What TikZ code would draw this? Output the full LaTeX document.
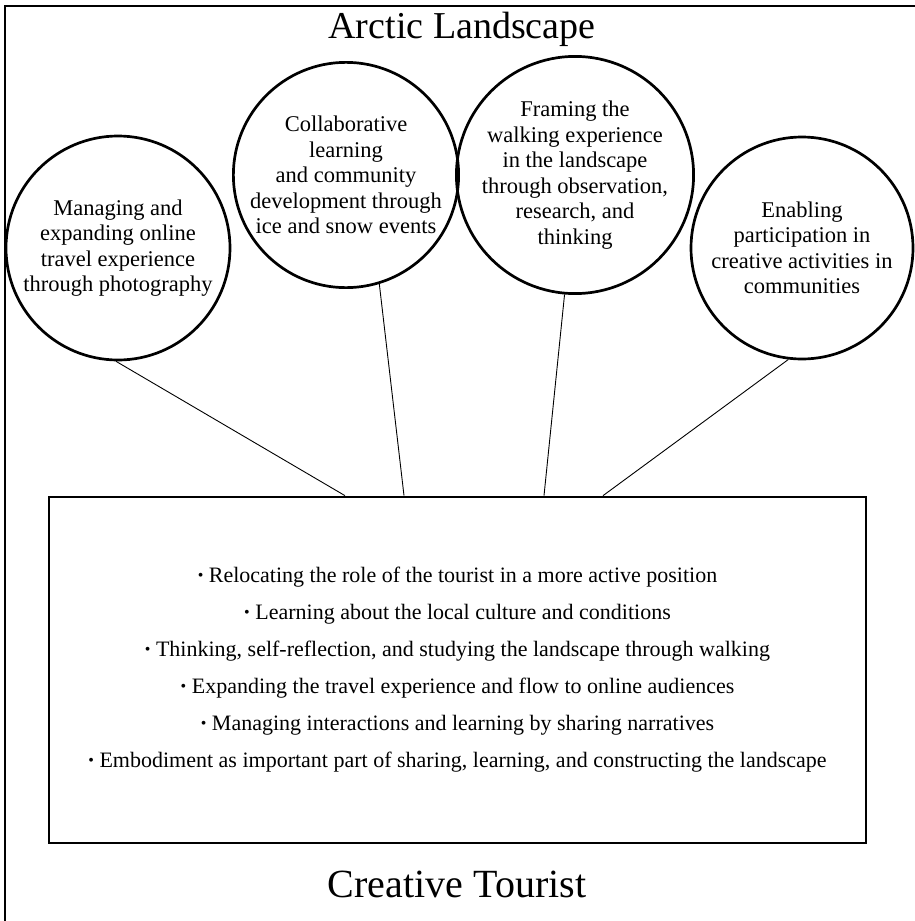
\documentclass[tikz,border=0pt]{standalone}
\usepackage{fontspec}
\setmainfont{Liberation Serif}
\usetikzlibrary{calc}
\newcommand\mybul{\raisebox{0.1em}{\fontsize{16}{16}\selectfont\textbullet}\ }
\begin{document}
\begin{tikzpicture}[x=1pt,y=-1pt,
  bubble/.style={circle,draw,line width=2.7pt,inner sep=0pt,align=center,
    font=\fontsize{22.5}{25.5}\selectfont},
  heading/.style={font=\fontsize{38}{40}\selectfont,inner sep=0pt,anchor=base},
  frame/.style={line width=2pt},
  link/.style={line width=0.9pt},
]
\useasboundingbox (0,0) rectangle (914,921);
\fill[white] (0,0) rectangle (914,921);
\draw[frame] (5,930) -- (5,6) -- (925,6);

\node[heading] (top) at (462,38) {Arctic Landscape};
\node[heading,font=\fontsize{40}{42}\selectfont] (bottom) at (457,897) {Creative Tourist};

\node[bubble,minimum size=224pt] (c1) at (118,248)
  {Managing and\\expanding online\\travel experience\\through photography};
\node[bubble,minimum size=224pt] (c2) at (346,175)
  {Collaborative\\learning\\and community\\development through\\ice and snow events};
\node[bubble,minimum size=226pt] (c3) at (575,175)
  {Framing the\\walking experience\\in the landscape\\through observation,\\research, and\\thinking};
\node[bubble,minimum size=222pt] (c4) at (802,248)
  {Enabling\\participation in\\creative activities in\\communities};

\node[draw,line width=2.2pt,minimum width=817pt,minimum height=346pt,inner sep=0pt,
  align=center,font=\fontsize{22}{37}\selectfont] (box) at (457.5,669.75)
  {\mybul Relocating the role of the tourist in a more active position\\
   \mybul Learning about the local culture and conditions\\
   \mybul Thinking, self-reflection, and studying the landscape through walking\\
   \mybul Expanding the travel experience and flow to online audiences\\
   \mybul Managing interactions and learning by sharing narratives\\
   \mybul Embodiment as important part of sharing, learning, and constructing the landscape};

\coordinate (p1) at ($(box.north)+(-112.5,0)$);
\coordinate (p2) at ($(box.north)+(-53.5,0)$);
\coordinate (p3) at ($(box.north)+(86.5,0)$);
\coordinate (p4) at ($(box.north)+(145.5,0)$);

\draw[link] (c1.269) -- (p1);
\draw[link] (c2.287) -- (p2);
\draw[link] (c3.265) -- (p3);
\draw[link] (c4.263) -- (p4);
\end{tikzpicture}
\end{document}
